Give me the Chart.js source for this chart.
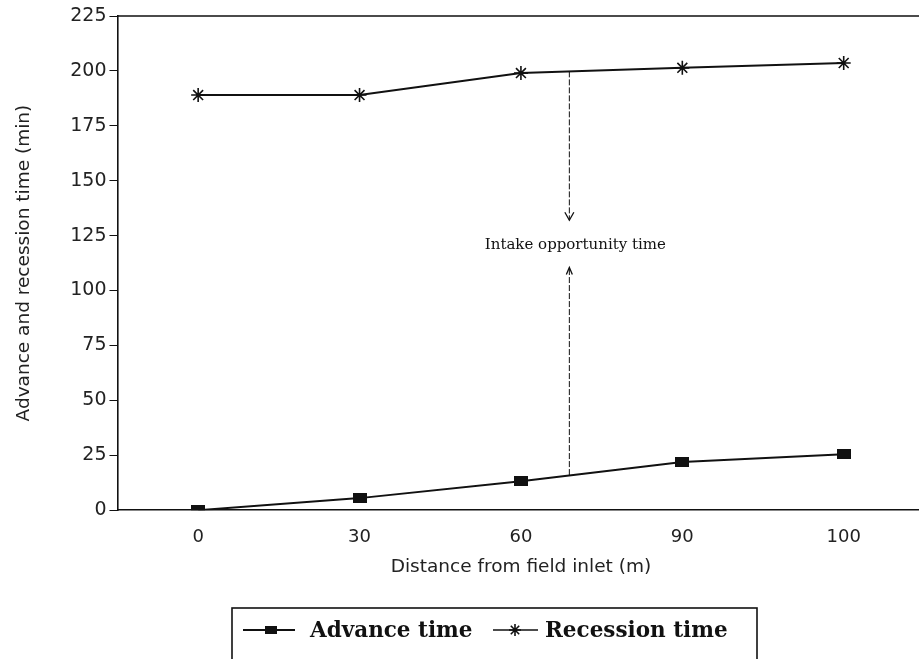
<!DOCTYPE html>
<html>
<head>
<meta charset="utf-8">
<script src="https://cdn.jsdelivr.net/npm/chart.js@4"></script>
<style>
  html, body { margin: 0; padding: 0; background: #fff; overflow: hidden; }
  #wrap { width: 933px; height: 659px; }
</style>
</head>
<body>
<div id="wrap"><canvas id="advanceChart"></canvas></div>
<script>
// data
const distances = ['0', '30', '60', '90', '100'];
const advanceTime = [0, 5.5, 13.2, 21.9, 25.5];
const recessionTime = [189, 189, 199, 201.4, 203.6];
const yTicks = [0, 25, 50, 75, 100, 125, 150, 175, 200, 225];

// intake opportunity arrow (x in category units, y in minutes)
const arrowAt = 2.3;
const arrowTop = 199.8, arrowDownHead = 132;
const arrowBottom = 16, arrowUpHead = 110.5;
const arrowLabel = 'Intake opportunity time';
const arrowLabelAt = 120.5;

const ink = '#111';
const sansFont = '"DejaVu Sans", Verdana, sans-serif';

// filled oblong marker like the scanned squares
const squareMark = document.createElement('canvas');
squareMark.width = 14;
squareMark.height = 10;
const sq = squareMark.getContext('2d');
sq.fillStyle = ink;
sq.fillRect(0, 0, 14, 10);

function drawStar(ctx, sx, sy, r) {
    ctx.beginPath();
    ctx.moveTo(sx - r, sy); ctx.lineTo(sx + r, sy);
    ctx.moveTo(sx, sy - r); ctx.lineTo(sx, sy + r);
    ctx.moveTo(sx - r * 0.7, sy - r * 0.7); ctx.lineTo(sx + r * 0.7, sy + r * 0.7);
    ctx.moveTo(sx - r * 0.7, sy + r * 0.7); ctx.lineTo(sx + r * 0.7, sy - r * 0.7);
    ctx.stroke();
}

const extras = {
    id: 'extras',
    afterDraw(chart) {
        const ctx = chart.ctx;
        const x = chart.scales.x, y = chart.scales.y;
        const area = chart.chartArea;
        ctx.save();
        ctx.strokeStyle = ink;
        ctx.fillStyle = ink;

        // top frame line and bottom axis carried to the page edge
        ctx.lineWidth = 1.5;
        ctx.beginPath();
        ctx.moveTo(area.left, y.getPixelForValue(225));
        ctx.lineTo(chart.width, y.getPixelForValue(225));
        ctx.moveTo(area.right, y.getPixelForValue(0));
        ctx.lineTo(chart.width, y.getPixelForValue(0));
        ctx.stroke();

        // arrows
        const ax = x.getPixelForValue(arrowAt);
        ctx.lineWidth = 1;
        ctx.setLineDash([6, 2]);
        ctx.beginPath();
        ctx.moveTo(ax, y.getPixelForValue(arrowTop));
        ctx.lineTo(ax, y.getPixelForValue(arrowDownHead));
        ctx.moveTo(ax, y.getPixelForValue(arrowBottom));
        ctx.lineTo(ax, y.getPixelForValue(arrowUpHead));
        ctx.stroke();
        ctx.setLineDash([]);
        const hd = y.getPixelForValue(arrowDownHead), hu = y.getPixelForValue(arrowUpHead);
        ctx.lineWidth = 1.3;
        ctx.beginPath();
        ctx.moveTo(ax - 4.5, hd - 8); ctx.lineTo(ax, hd); ctx.lineTo(ax + 4.5, hd - 8);
        ctx.moveTo(ax - 3, hu + 7); ctx.lineTo(ax, hu); ctx.lineTo(ax + 3, hu + 7);
        ctx.stroke();

        ctx.font = '15px "DejaVu Serif", serif';
        ctx.textAlign = 'center';
        ctx.textBaseline = 'middle';
        ctx.fillText(arrowLabel, ax + 6, y.getPixelForValue(arrowLabelAt));

        // boxed legend at the bottom
        const bx = 232, by = 608, bw = 525, bh = 60;
        ctx.lineWidth = 1.6;
        ctx.strokeRect(bx, by, bw, bh);
        const cy = 630;
        ctx.lineWidth = 2;
        ctx.beginPath();
        ctx.moveTo(bx + 11, cy); ctx.lineTo(bx + 63, cy);
        ctx.stroke();
        ctx.fillRect(bx + 33, cy - 4, 12, 8);
        ctx.lineWidth = 1.3;
        ctx.beginPath();
        ctx.moveTo(bx + 261, cy); ctx.lineTo(bx + 306, cy);
        ctx.stroke();
        ctx.lineWidth = 1.6;
        drawStar(ctx, bx + 283, cy, 6);
        ctx.font = 'bold 21.5px "DejaVu Serif", serif';
        ctx.textAlign = 'left';
        ctx.fillText('Advance time', bx + 78, cy + 1);
        ctx.fillText('Recession time', bx + 313, cy + 1);
        ctx.restore();
    }
};

const ctx = document.getElementById('advanceChart').getContext('2d');

new Chart(ctx, {
    type: 'line',
    data: {
        labels: distances,
        datasets: [{
            label: 'Advance time',
            data: advanceTime,
            borderColor: ink,
            backgroundColor: ink,
            borderWidth: 2,
            pointStyle: squareMark,
            tension: 0
        }, {
            label: 'Recession time',
            data: recessionTime,
            borderColor: ink,
            backgroundColor: ink,
            borderWidth: 2,
            pointStyle: 'star',
            pointRadius: 7,
            pointBorderWidth: 1.6,
            tension: 0
        }]
    },
    options: {
        responsive: true,
        maintainAspectRatio: false,
        animation: false,
        layout: { padding: { top: 16, left: 13, right: 0, bottom: 81 } },
        plugins: {
            legend: { display: false },
            tooltip: { enabled: false }
        },
        scales: {
            x: {
                offset: true,
                grid: { display: false },
                border: { display: true, color: ink, width: 1.6 },
                ticks: {
                    color: '#222',
                    padding: 8,
                    font: { family: sansFont, size: 18 }
                },
                title: {
                    display: true,
                    text: 'Distance from field inlet (m)',
                    color: '#222',
                    padding: { top: 0, bottom: 0 },
                    font: { family: sansFont, size: 18.5 }
                }
            },
            y: {
                min: 0,
                max: 225,
                afterBuildTicks: function (axis) {
                    axis.ticks = yTicks.map(v => ({ value: v }));
                },
                grid: {
                    drawOnChartArea: false,
                    drawTicks: true,
                    tickLength: 8,
                    color: ink
                },
                border: { display: true, color: ink, width: 1.6 },
                ticks: {
                    color: '#222',
                    padding: 3,
                    font: { family: sansFont, size: 19 }
                },
                title: {
                    display: true,
                    text: 'Advance and recession time (min)',
                    color: '#222',
                    padding: { top: 0, bottom: 32 },
                    font: { family: sansFont, size: 18.5 }
                }
            }
        }
    },
    plugins: [extras]
});
</script>
</body>
</html>
